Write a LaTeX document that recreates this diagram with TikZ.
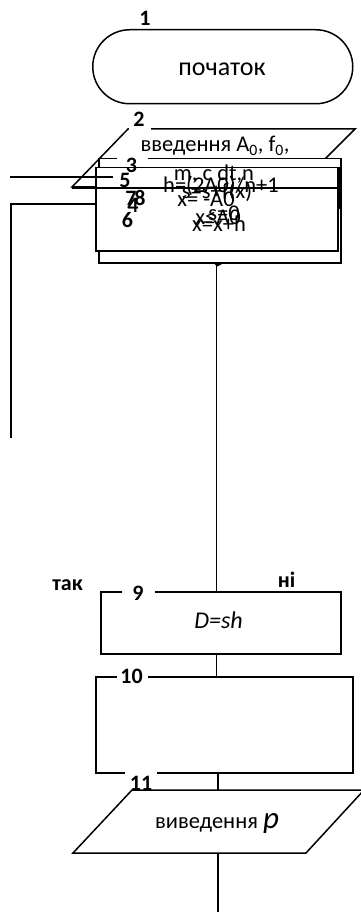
\documentclass[tikz,border=0pt]{standalone}
\usepackage{fontspec}
\setmainfont{Carlito}
\begin{document}
\begin{tikzpicture}[x=1pt,y=-1pt,
  ln/.style={line width=1.5pt},
  boxn/.style={ln, draw, fill=white, inner sep=0pt, anchor=north west},
  lbl/.style={font=\bfseries\fontsize{22}{22}\selectfont, inner sep=0pt, anchor=base},
  txt/.style={font=\fontsize{22.5}{22.5}\selectfont, inner sep=0pt, anchor=base},
  gapw/.style={fill=white, draw=none}
]
\useasboundingbox (0,0) rectangle (360,912);
\fill[white] (0,0) rectangle (360,912);

% 1 terminator
\node[boxn, rounded corners=37pt, minimum width=260pt, minimum height=74pt] (term) at (92,29) {};
% 2 input parallelogram
\draw[ln, fill=white] (128,129) coordinate (p2tl) -- (355,129) -- (297,187) -- (72,187) coordinate (p2bl) -- cycle;
% 3 outer box and inner box
\node[boxn, minimum width=242pt, minimum height=104pt] (bA) at (98,158) {};
\node[boxn, minimum width=242pt, minimum height=83pt] (bB) at (95,167) {};
% stray lines
\coordinate (l1a) at (10,177); \coordinate (l1b) at (113,177);
\draw[ln] (l1a) -- (l1b);
\coordinate (l2b) at (337,188);
\draw[ln] (p2bl) ++(0,1) -- (l2b);
\coordinate (l3a) at (95,204); \coordinate (l3b) at (11,204); \coordinate (l3c) at (11,438);
\draw[ln] (l3a) -- (l3b) -- (l3c);
\draw[line width=2.6pt] (bB.north east) ++(1,0) -- ++(0,42);
% gaps under labels
\fill[gapw] (129,125) rectangle (151,132);
\fill[gapw] (117,154) rectangle (148,162);
% arrowhead under box A and main connector
\coordinate (aA) at (216.5,262);
\fill (213,262.5) -- (225,262.5) -- (217,266.5) -- cycle;
\node[boxn, minimum width=240pt, minimum height=62pt] (b9) at (100,591) {};
\draw[ln] (aA) -- (b9.north -| aA);
\fill[gapw] (122,588) rectangle (155,594);
% box 10
\node[boxn, minimum width=257pt, minimum height=96pt] (b10) at (95,676) {};
\draw[ln] (b9.south -| aA) -- (b10.north -| aA);
\fill[gapw] (117,673) rectangle (148,679);
\fill[gapw] (125,769) rectangle (157,775);
% 11 output parallelogram
\draw[ln, fill=white] (132,790) coordinate (p11tl) -- (364,790) -- (306,853) -- (73,853) -- cycle;
\coordinate (c11t) at (218,790); \coordinate (c11b) at (218,853); \coordinate (endp) at (218,912);
\draw[ln] (b10.south -| c11t) -- (c11t);
\draw[ln] (c11b) -- (endp);

% texts
\node[txt, font=\fontsize{26}{26}\selectfont] (tstart) at (222,76) {початок};
\node[txt] (tin1) at (215,152) {введення A\textsubscript{0}, f\textsubscript{0},};
\node[txt] (tin2) at (214,180) {m, c dt,n};
\node[txt] (th) at (221,193) {h=(2A0)/n+1};
\node[txt] (ts) at (217,198) {s=s+f(x)};
\node[txt] (tx) at (206,207) {x= -A0};
\node[txt] (ts0) at (224,220) {s=0};
\node[txt] (tcond) at (218,224) {x≤A0};
\node[txt] (tinc) at (219,231) {x=x+h};
\node[txt, font=\itshape\fontsize{24}{24}\selectfont] (tD) at (218.5,628) {D=sh};
\node[txt] (tout) at (217,828) {виведення \textit{\fontsize{31}{31}\selectfont p}};

% labels
\node[lbl] (n1) at (145,26) {1};
\node[lbl] (n2) at (139,127) {2};
\node[lbl] (n3) at (131.5,172) {3};
\node[lbl] (n5) at (125,188) {5};
\node[lbl] (n7) at (131,205) {7};
\node[lbl] (n8) at (140,205) {8};
\node[lbl] (n4) at (133,212) {4};
\node[lbl] (n6) at (127.5,227) {6};
\node[lbl] (n9) at (138,600) {9};
\node[lbl] (n10) at (131.5,683) {10};
\node[lbl] (n11) at (141,790) {11};
\node[lbl] (tak) at (67.5,590) {так};
\node[lbl] (ni) at (286.5,587) {ні};
\end{tikzpicture}
\end{document}
